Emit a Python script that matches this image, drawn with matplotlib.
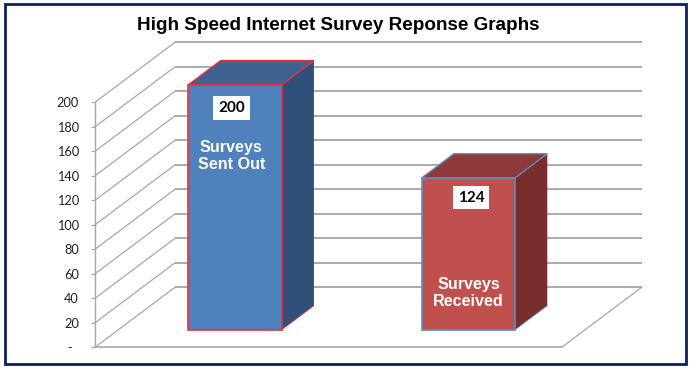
import matplotlib
matplotlib.use("Agg")
import matplotlib.pyplot as plt
from matplotlib.patches import Polygon, Rectangle

# ---- data ----
categories = ["Surveys\nSent Out", "Surveys\nReceived"]
values = [200, 124]
value_labels = ["200", "124"]
tick_values = list(range(0, 201, 20))
tick_labels = ["-  "] + [str(v) for v in tick_values[1:]]
title = "High Speed Internet Survey Reponse Graphs"

W, H = 691, 367
fig = plt.figure(figsize=(W / 100, H / 100), dpi=100, facecolor="white")
# front plane of the 3D chart
L, R, T, B = 95, 561.7, 102.3, 347.3
ax = fig.add_axes([L / W, 1 - B / H, (R - L) / W, (B - T) / H])
ax.set_xlim(-0.5, 1.5)
ax.set_ylim(0, 200)
ax.patch.set_visible(False)

# depth shift of the full floor, in data units (x slots, y values)
DX = 80 / ((R - L) / 2)
DY = 60 / ((B - T) / 200)
GRID = "#a6a6a6"

def proj(x, v, d):
    """3D point -> axes data coordinates; d: 0 front, 1 back."""
    return (x + DX * d, v + DY * d)

for s in ("top", "right"):
    ax.spines[s].set_visible(False)
ax.spines["left"].set_color(GRID)
ax.spines["left"].set_linewidth(1.0)
ax.spines["bottom"].set_color("#b0b0b0")
ax.spines["bottom"].set_linewidth(1.3)
ax.set_xticks([])
ax.set_yticks(tick_values)
ax.set_yticklabels(tick_labels, fontfamily="Lato", fontsize=9.2, color="#222222")
ax.tick_params(axis="y", length=3, width=0.8, color=GRID, pad=8.5)

# walls: back-wall gridlines and side-wall diagonals
for v in tick_values:
    x0, y0 = proj(-0.5, v, 0)
    x1, y1 = proj(-0.5, v, 1)
    x2, y2 = proj(1.5, v, 1)
    ax.plot([x0, x1], [y0, y1], color=GRID, lw=0.9, clip_on=False, zorder=1)
    ax.plot([x1, x2], [y1, y2], color="#ababab", lw=1.4, clip_on=False, zorder=1,
            solid_capstyle="butt")
fx0, fy0 = proj(1.5, 0, 0)
fx1, fy1 = proj(1.5, 0, 1)
ax.plot([fx0, fx1], [fy0, fy1], color=GRID, lw=0.9, clip_on=False, zorder=1)

# bars
bar_w = 0.4
d_front, d_back = 0.29, 0.695
faces = [
    dict(front="#4F81BD", top="#3E6390", side="#2F5179", edge="#E8303C"),
    dict(front="#C0504D", top="#8E3A38", side="#7A2E2C", edge="#5B8CC4"),
]
box_shift = [-0.014, 0.013]
text_shift = [-0.015, 0.002]
box_drop = [19, 16]
text_value = [142, 30]
for i, (val, st) in enumerate(zip(values, faces)):
    xl, xr = i - bar_w / 2, i + bar_w / 2
    fbl = proj(xl, 0, d_front)
    fbr = proj(xr, 0, d_front)
    ftr = proj(xr, val, d_front)
    ftl = proj(xl, val, d_front)
    bbr = proj(xr, 0, d_back)
    btr = proj(xr, val, d_back)
    btl = proj(xl, val, d_back)
    ax.add_patch(Polygon([fbr, bbr, btr, ftr], closed=True, fc=st["side"], ec="none",
                         clip_on=False, zorder=3))
    ax.add_patch(Polygon([ftl, ftr, btr, btl], closed=True, fc=st["top"], ec=st["edge"], lw=1.0,
                         clip_on=False, zorder=4, joinstyle="miter"))
    ax.add_patch(Polygon([fbl, fbr, ftr, ftl], closed=True, fc=st["front"], ec=st["edge"], lw=1.2,
                         clip_on=False, zorder=5, joinstyle="miter"))
    ax.plot([fbr[0], bbr[0]], [fbr[1], bbr[1]], color=st["edge"], lw=0.6, clip_on=False, zorder=4)

    # value label box and category label on the front face
    cx = (fbl[0] + fbr[0]) / 2
    ax.text(cx + box_shift[i], proj(0, val - box_drop[i], d_front)[1], value_labels[i],
            ha="center", va="center", fontfamily="Lato", fontweight="bold", fontsize=11,
            color="black", zorder=7,
            bbox=dict(boxstyle="square,pad=0.32", fc="white", ec="none"))
    ax.text(cx + text_shift[i], proj(0, text_value[i], d_front)[1], categories[i],
            ha="center", va="center", fontfamily="Liberation Sans", fontweight="bold",
            fontsize=11.6, color="white", linespacing=1.17, zorder=7)

fig.text((137 + 540) / 2 / W, 1 - 25 / H, title, ha="center", va="center",
         fontfamily="Liberation Sans", fontweight="bold", fontsize=13.6, color="black")

# outer frame
fig.add_artist(Rectangle((5 / W, 1 - 364 / H), 681 / W, 360.5 / H, transform=fig.transFigure,
                         fc="none", ec="#0B1F66", lw=2.0))

fig.savefig("out.png", dpi=100, facecolor="white")
